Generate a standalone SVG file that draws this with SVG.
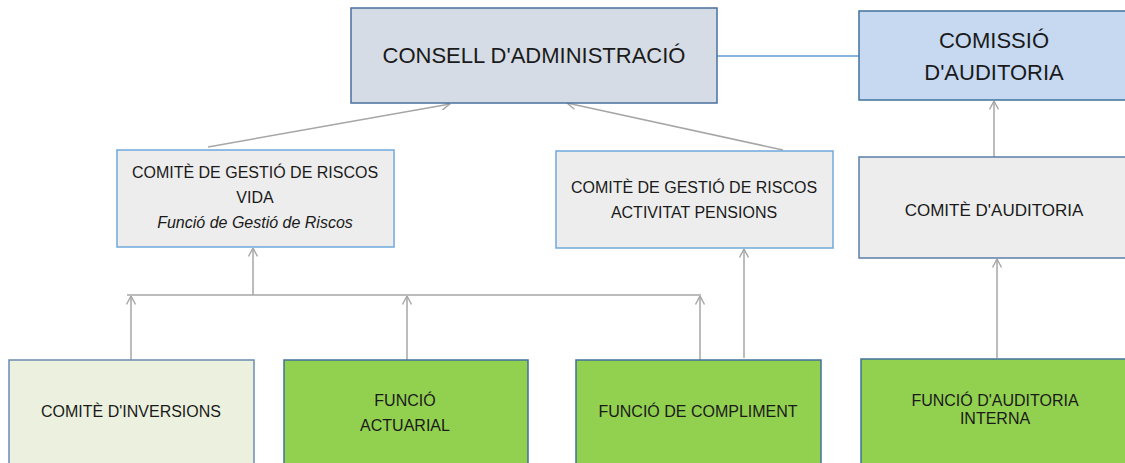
<svg xmlns="http://www.w3.org/2000/svg" width="1125" height="463" viewBox="0 0 1125 463">
<style>
text{font-family:"Liberation Sans",Arial,sans-serif;fill:#1a1a1a;text-anchor:middle}
.t22{font-size:22px}
.t16{font-size:16px}
.t17{font-size:17px}
.it{font-style:italic}
.box{stroke-width:1.5}
.conn{fill:none;stroke:#a6a6a6;stroke-width:1.5}
</style>
<defs>
<marker id="ah" viewBox="0 0 10 10" refX="9.5" refY="5" markerWidth="10" markerHeight="10" markerUnits="userSpaceOnUse" orient="auto">
<path d="M1,0.5 L9.5,5 L1,9.5" fill="none" stroke="#a6a6a6" stroke-width="1.4"/>
</marker>
</defs>
<g id="connectors">
<line x1="717" y1="56" x2="859" y2="56" stroke="#5b9bd5" stroke-width="1.5"/>
<line class="conn" x1="208" y1="147" x2="450" y2="104" marker-end="url(#ah)"/>
<line class="conn" x1="783" y1="150" x2="567" y2="103" marker-end="url(#ah)"/>
<line class="conn" x1="994" y1="157" x2="994" y2="101" marker-end="url(#ah)"/>
<line class="conn" x1="127" y1="295" x2="701" y2="295"/>
<line class="conn" x1="253" y1="295" x2="253" y2="248" marker-end="url(#ah)"/>
<line class="conn" x1="131" y1="360" x2="131" y2="296" marker-end="url(#ah)"/>
<line class="conn" x1="407" y1="360" x2="407" y2="296" marker-end="url(#ah)"/>
<line class="conn" x1="700" y1="360" x2="700" y2="296" marker-end="url(#ah)"/>
<line class="conn" x1="744" y1="358" x2="744" y2="249" marker-end="url(#ah)"/>
<line class="conn" x1="997" y1="358" x2="997" y2="259" marker-end="url(#ah)"/>
</g>
<g id="consell">
<rect class="box" x="351" y="8" width="366" height="95" fill="#d6dce5" stroke="#4a6f9c"/>
<text class="t22" x="534" y="63">CONSELL D'ADMINISTRACIÓ</text>
</g>
<g id="comissio">
<rect class="box" x="859" y="11" width="280" height="89" fill="#c6d9f1" stroke="#41719c"/>
<text class="t22" x="994" y="48">COMISSIÓ</text>
<text class="t22" x="994" y="80">D'AUDITORIA</text>
</g>
<g id="comite-vida">
<rect class="box" x="117" y="150" width="277" height="97" fill="#ededed" stroke="#6fa8dc"/>
<text class="t16" x="255" y="178">COMITÈ DE GESTIÓ DE RISCOS</text>
<text class="t16" x="255" y="203">VIDA</text>
<text class="t16 it" x="255" y="228">Funció de Gestió de Riscos</text>
</g>
<g id="comite-pensions">
<rect class="box" x="556" y="151" width="277" height="97" fill="#ededed" stroke="#6fa8dc"/>
<text class="t16" x="694" y="193">COMITÈ DE GESTIÓ DE RISCOS</text>
<text class="t16" x="694" y="218">ACTIVITAT PENSIONS</text>
</g>
<g id="comite-auditoria">
<rect class="box" x="859" y="157" width="280" height="101" fill="#ededed" stroke="#5b7ea8"/>
<text class="t17" x="994" y="216">COMITÈ D'AUDITORIA</text>
</g>
<g id="comite-inversions">
<rect class="box" x="9" y="360" width="245" height="115" fill="#ebf1de" stroke="#6a8cb4"/>
<text class="t16" x="131" y="417">COMITÈ D'INVERSIONS</text>
</g>
<g id="funcio-actuarial">
<rect class="box" x="284" y="360" width="244" height="115" fill="#92d050" stroke="#41719c"/>
<text class="t16" x="405" y="406">FUNCIÓ</text>
<text class="t16" x="405" y="431">ACTUARIAL</text>
</g>
<g id="funcio-compliment">
<rect class="box" x="576" y="360" width="245" height="115" fill="#92d050" stroke="#41719c"/>
<text class="t16" x="698" y="417">FUNCIÓ DE COMPLIMENT</text>
</g>
<g id="funcio-auditoria-interna">
<rect class="box" x="861" y="359" width="280" height="115" fill="#92d050" stroke="#41719c"/>
<text class="t16" x="995" y="406">FUNCIÓ D'AUDITORIA</text>
<text class="t16" x="995" y="424">INTERNA</text>
</g>
</svg>
